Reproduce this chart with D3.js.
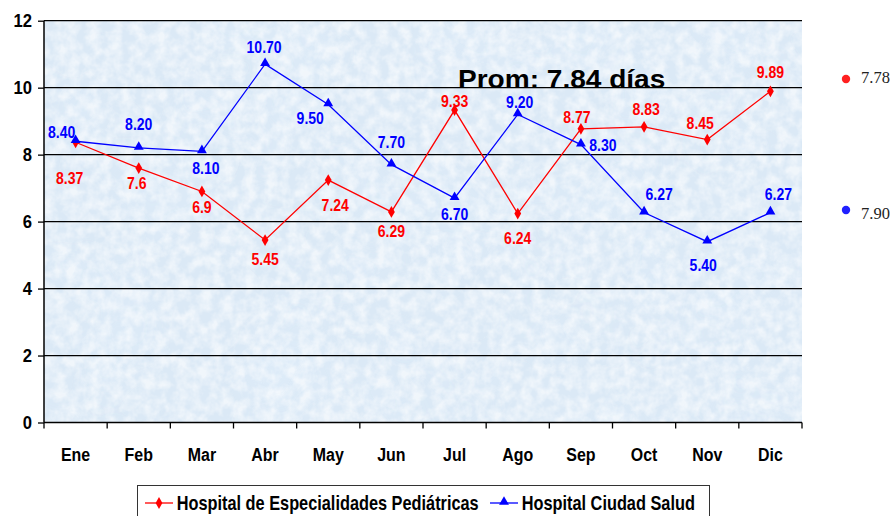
<!DOCTYPE html>
<html>
<head>
<meta charset="utf-8">
<script src="https://cdn.jsdelivr.net/npm/d3@7"></script>
<style>
  html, body { margin: 0; padding: 0; background: #fff; }
  svg { display: block; }
  text { font-family: Arial, "Liberation Sans", sans-serif; font-weight: bold; }
</style>
</head>
<body>
<svg id="chart" width="893" height="516"></svg>
<script>
// ---- data ----
const months = ["Ene","Feb","Mar","Abr","May","Jun","Jul","Ago","Sep","Oct","Nov","Dic"];
const pediatricas = [8.37, 7.6, 6.9, 5.45, 7.24, 6.29, 9.33, 6.24, 8.77, 8.83, 8.45, 9.89];
const pediatricasLabels = ["8.37","7.6","6.9","5.45","7.24","6.29","9.33","6.24","8.77","8.83","8.45","9.89"];
const ciudadSalud = [8.40, 8.20, 8.10, 10.70, 9.50, 7.70, 6.70, 9.20, 8.30, 6.27, 5.40, 6.27];
const ciudadSaludLabels = ["8.40","8.20","8.10","10.70","9.50","7.70","6.70","9.20","8.30","6.27","5.40","6.27"];
const yTicks = [0, 2, 4, 6, 8, 10, 12];
const seriesNames = ["Hospital de Especialidades Pediátricas", "Hospital Ciudad Salud"];
const averageTitle = "Prom: 7.84 días";
const sideValues = ["7.78", "7.90"];

// label nudges (layout only, px)
const redNudge = [[-6,36],[-2,15.5],[0,15.5],[0,19],[7,25],[0,19],[0,-9],[0,24],[-4,-12],[2,-18],[-7,-17],[0,-19]];
const blueNudge = [[-14,-9],[0,-24],[4,16.5],[-1,-17],[-18,14],[0,-23],[0,16],[2,-12],[22,0],[15,-19],[-4,23],[8,-19]];

const svg = d3.select("#chart");
const plot = { left: 44, right: 802, top: 20.7, bottom: 422.5 };
const x = d3.scaleBand().domain(months).range([plot.left, plot.right]).padding(0);
const y = d3.scaleLinear().domain([0, 12]).range([plot.bottom, plot.top]);
const cx = m => x(m) + x.bandwidth() / 2;
const SX = 0.84;

function sText(g, px, py, str, opts) {
  const t = g.append("text")
    .attr("transform", `translate(${px},${py}) scale(${opts.sx || SX},1)`)
    .attr("text-anchor", opts.anchor || "middle")
    .attr("font-size", opts.size)
    .attr("fill", opts.fill || "#000")
    .text(str);
  if (opts.family) t.style("font-family", opts.family);
  if (opts.weight) t.style("font-weight", opts.weight);
  if (opts.dy) t.attr("dy", opts.dy);
  return t;
}

// ---- background texture ----
const defs = svg.append("defs");
const f = defs.append("filter").attr("id", "tex").attr("x", 0).attr("y", 0).attr("width", 1).attr("height", 1);
f.append("feTurbulence").attr("type", "fractalNoise").attr("baseFrequency", 0.09).attr("numOctaves", 3).attr("seed", 4).attr("result", "n");
f.append("feColorMatrix").attr("in", "n").attr("type", "matrix")
  .attr("values", "0 0 0 0 1  0 0 0 0 1  0 0 0 0 1  0 0 0 -2.2 1.5");
const f2 = defs.append("filter").attr("id", "tex2").attr("x", 0).attr("y", 0).attr("width", 1).attr("height", 1);
f2.append("feTurbulence").attr("type", "fractalNoise").attr("baseFrequency", 0.012).attr("numOctaves", 2).attr("seed", 9).attr("result", "n");
f2.append("feColorMatrix").attr("in", "n").attr("type", "matrix")
  .attr("values", "0 0 0 0 0.74  0 0 0 0 0.85  0 0 0 0 0.96  0 0 0 1.4 -0.6");

svg.append("rect").attr("x", plot.left).attr("y", plot.top)
  .attr("width", plot.right - plot.left).attr("height", plot.bottom - plot.top)
  .attr("fill", "#dbe9f6");
svg.append("rect").attr("x", plot.left).attr("y", plot.top)
  .attr("width", plot.right - plot.left).attr("height", plot.bottom - plot.top)
  .attr("filter", "url(#tex2)").attr("opacity", 0.75);
svg.append("rect").attr("x", plot.left).attr("y", plot.top)
  .attr("width", plot.right - plot.left).attr("height", plot.bottom - plot.top)
  .attr("filter", "url(#tex)").attr("opacity", 0.6);

// ---- gridlines ----
svg.append("g").selectAll("line").data(yTicks.filter(v => v > 0)).join("line")
  .attr("x1", plot.left).attr("x2", plot.right)
  .attr("y1", d => y(d)).attr("y2", d => y(d))
  .attr("stroke", "#000").attr("stroke-width", 1.2);

// ---- axes ----
const yAxis = svg.append("g").attr("transform", `translate(${plot.left},0)`)
  .call(d3.axisLeft(y).tickValues(yTicks).tickSize(6).tickFormat(""));
yAxis.select(".domain").attr("stroke", "#000").attr("stroke-width", 1.5).attr("d", `M0,${plot.top}V${plot.bottom}`);
yAxis.selectAll(".tick line").attr("stroke", "#000").attr("stroke-width", 1.3);

const xAxis = svg.append("g").attr("transform", `translate(0,${plot.bottom})`)
  .call(d3.axisBottom(x).tickSize(0).tickFormat(""));
xAxis.select(".domain").attr("stroke", "#000").attr("stroke-width", 1.5).attr("d", `M${plot.left},0H${plot.right}`);
// boundary ticks
const bounds = months.map(m => x(m)).concat([plot.right]);
svg.append("g").selectAll("line").data(bounds).join("line")
  .attr("x1", d => d).attr("x2", d => d)
  .attr("y1", plot.bottom).attr("y2", plot.bottom + 6)
  .attr("stroke", "#000").attr("stroke-width", 1.3);

const tl = svg.append("g");
yTicks.forEach(v => sText(tl, 32, y(v), String(v), { anchor: "end", size: 18.5, sx: 0.9, dy: "0.36em" }));
months.forEach(m => sText(tl, cx(m), 460.7, m, { size: 19 }));

// ---- series ----
const line = d3.line().x((d, i) => cx(months[i])).y(d => y(d));
svg.append("path").datum(pediatricas).attr("d", line).attr("fill", "none").attr("stroke", "#ff0000").attr("stroke-width", 1.3);
svg.append("path").datum(ciudadSalud).attr("d", line).attr("fill", "none").attr("stroke", "#0000ff").attr("stroke-width", 1.3);

const diamond = d3.symbol().type(d3.symbolDiamond).size(40);
const tri = d3.symbol().type(d3.symbolTriangle).size(42);
svg.append("g").selectAll("path").data(pediatricas).join("path")
  .attr("d", diamond).attr("fill", "#ff0000")
  .attr("transform", (d, i) => `translate(${cx(months[i])},${y(d)})`);
svg.append("g").selectAll("path").data(ciudadSalud).join("path")
  .attr("d", tri).attr("fill", "#0000ff")
  .attr("transform", (d, i) => `translate(${cx(months[i])},${y(d) - 1})`);

const lg = svg.append("g");
pediatricas.forEach((v, i) => sText(lg, cx(months[i]) + redNudge[i][0], y(v) + redNudge[i][1], pediatricasLabels[i], { size: 16.5, sx: 0.85, fill: "#ff0000", dy: "0.36em" }));
ciudadSalud.forEach((v, i) => sText(lg, cx(months[i]) + blueNudge[i][0], y(v) + blueNudge[i][1], ciudadSaludLabels[i], { size: 16.5, sx: 0.85, fill: "#0000ff", dy: "0.36em" }));

// ---- average title ----
sText(svg, 458, 88.3, averageTitle, { anchor: "start", size: 25.5, sx: 1.1 });

// ---- side values ----
const side = svg.append("g");
[["#ff2020", 79], ["#2020ff", 210]].forEach((c, i) => {
  side.append("circle").attr("cx", 846).attr("cy", c[1]).attr("r", 4.2).attr("fill", c[0]);
  sText(side, 861, c[1] + (i === 0 ? -2 : 3), sideValues[i], { anchor: "start", size: 16.5, sx: 1, family: "'Liberation Serif', 'DejaVu Serif', serif", weight: "normal", dy: "0.36em" })
    .attr("fill", "#222");
});

// ---- legend ----
const leg = svg.append("g");
leg.append("rect").attr("x", 137.5).attr("y", 485.5).attr("width", 572).attr("height", 50)
  .attr("fill", "#fff").attr("stroke", "#333").attr("stroke-width", 1);
leg.append("line").attr("x1", 145).attr("x2", 173).attr("y1", 503).attr("y2", 503).attr("stroke", "#ff0000").attr("stroke-width", 1.3);
leg.append("path").attr("d", diamond).attr("fill", "#ff0000").attr("transform", "translate(159,503)");
sText(leg, 176.7, 509.7, seriesNames[0], { anchor: "start", size: 20, sx: 0.816 });
leg.append("line").attr("x1", 490).attr("x2", 518).attr("y1", 503).attr("y2", 503).attr("stroke", "#0000ff").attr("stroke-width", 1.3);
leg.append("path").attr("d", tri).attr("fill", "#0000ff").attr("transform", "translate(504,502)");
sText(leg, 521.7, 509.7, seriesNames[1], { anchor: "start", size: 20, sx: 0.816 });
</script>
</body>
</html>
